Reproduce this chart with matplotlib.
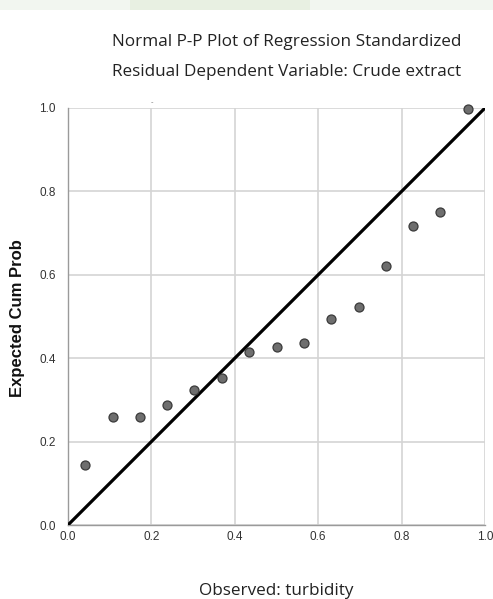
import matplotlib.pyplot as plt
from matplotlib.patches import Rectangle

# observed cumulative probability (x) and expected cumulative probability (y)
observed = [0.041, 0.107, 0.172, 0.238, 0.303, 0.369, 0.434, 0.500,
            0.566, 0.631, 0.697, 0.762, 0.828, 0.893, 0.959]
expected = [0.144, 0.259, 0.260, 0.288, 0.324, 0.352, 0.416, 0.426,
            0.437, 0.494, 0.522, 0.622, 0.718, 0.751, 0.998]
ticks = [0.0, 0.2, 0.4, 0.6, 0.8, 1.0]
tick_labels = ["0.0", "0.2", "0.4", "0.6", "0.8", "1.0"]

W, H = 493, 599
fig = plt.figure(figsize=(W / 100, H / 100), dpi=100)
fig.patch.set_facecolor("white")

# faint watermark strip along the top edge
fig.patches.append(Rectangle((0, 1 - 10 / H), 1, 10 / H, transform=fig.transFigure,
                             facecolor="#f2f6f0", edgecolor="none"))
fig.patches.append(Rectangle((130 / W, 1 - 10 / H), 180 / W, 10 / H, transform=fig.transFigure,
                             facecolor="#e8f0e2", edgecolor="none"))

ax = fig.add_axes([68 / W, 1 - 525 / H, 417 / W, 417 / H])
ax.set_xlim(0, 1)
ax.set_ylim(0, 1)

ax.grid(True, color="#d4d4d4", linewidth=1.2)
ax.set_axisbelow(True)
for side in ["top", "right"]:
    ax.spines[side].set_visible(False)
for side in ["left", "bottom"]:
    ax.spines[side].set_color("#9a9a9a")
    ax.spines[side].set_linewidth(1.0)

ax.plot([0, 1], [0, 1], color="black", linewidth=2.3, zorder=3, solid_capstyle="round")
ax.scatter(observed, expected, s=42, facecolor="#6e6e6e", edgecolor="#3a3a3a",
           linewidth=0.9, zorder=4, clip_on=False)

ax.set_xticks(ticks)
ax.set_yticks(ticks)
ax.set_xticklabels(tick_labels, family="Liberation Sans", fontsize=8.5, color="#333333")
ax.set_yticklabels(tick_labels, family="Liberation Sans", fontsize=8.5, color="#333333")
ax.tick_params(axis="x", length=0, pad=4)
ax.tick_params(axis="y", length=0, pad=9)

fig.text(18 / W, 1 - 318 / H, "Expected Cum Prob", rotation=90, ha="center", va="center",
         family="Liberation Sans", fontweight="bold", fontsize=12, color="#111111")

title_kw = dict(ha="center", va="center", family="Open Sans", fontsize=12.3, color="#222222")
fig.text(287 / W, 1 - 42 / H, "Normal P-P Plot of Regression Standardized", **title_kw)
fig.text(287 / W, 1 - 72 / H, "Residual Dependent Variable: Crude extract", **title_kw)
fig.text(276 / W, 1 - 591 / H, "Observed: turbidity", **title_kw)
fig.text(152 / W, 1 - 102 / H, "-", ha="center", va="center", fontsize=5, color="#777777")

fig.savefig("out.png", dpi=100)
